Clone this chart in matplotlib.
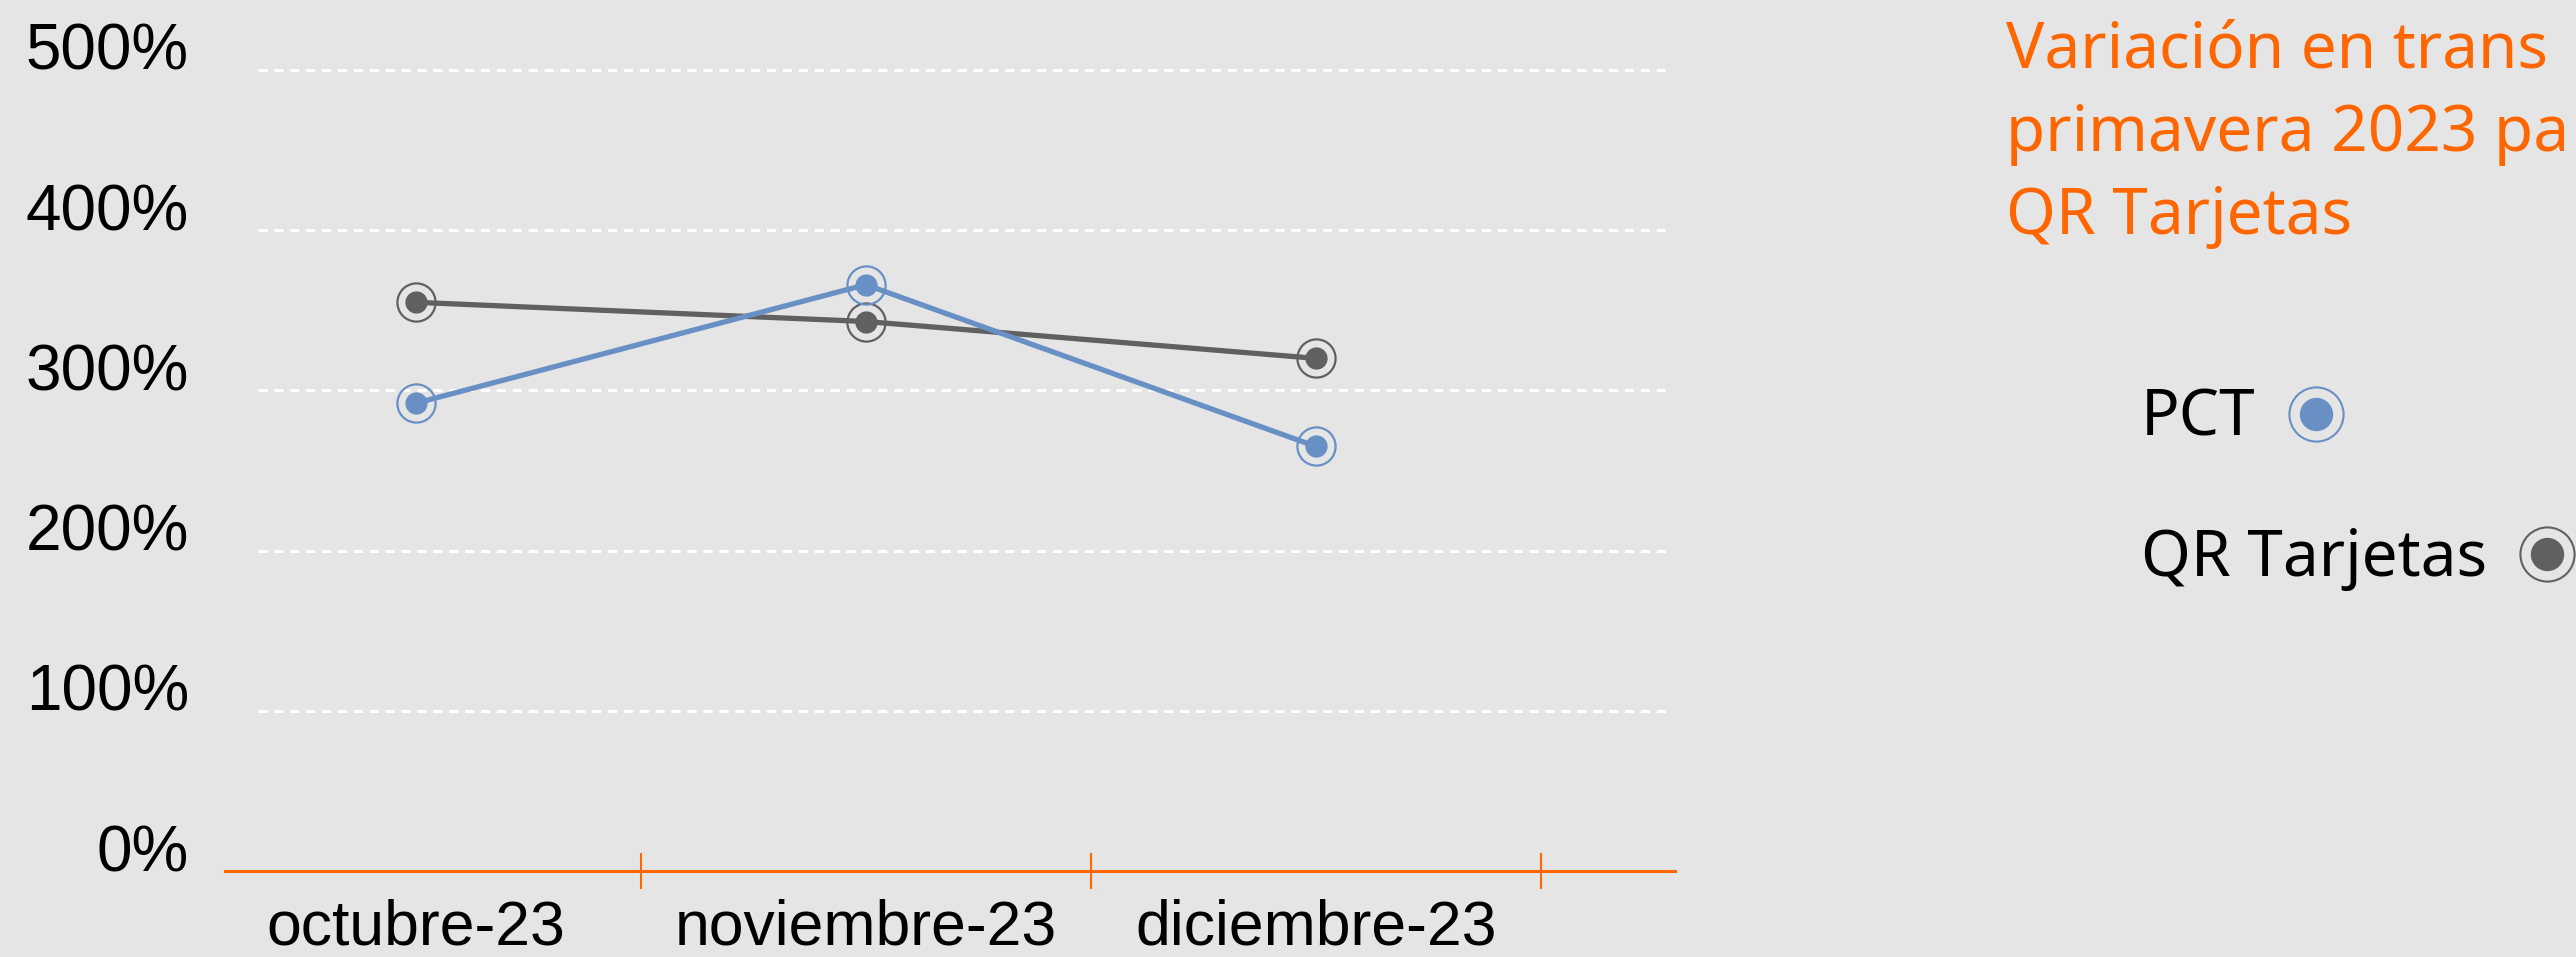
import matplotlib.pyplot as plt
from matplotlib.lines import Line2D
import numpy as np

meses = ["octubre-23", "noviembre-23", "diciembre-23"]
pct = [292, 366, 265]
qr_tarjetas = [355, 343, 320]
nombres = ["PCT", "QR Tarjetas"]
ticks_y = [0, 100, 200, 300, 400, 500]
# el titulo aparece recortado en el borde derecho
titulo = ["Variación en trans", "primavera 2023 pa", "QR Tarjetas"]

FONDO = "#e5e5e5"
NARANJA = "#ff6600"
AZUL = "#6890c4"
GRIS = "#606060"
W, H = 2576, 957


def dibujarSerie(ax, x, valores, color, z):
    ax.plot(x, valores, color=color, lw=3.8, marker='o', ms=15,
            mfc=color, mec=color, zorder=z, clip_on=False)
    ax.plot(x, valores, ls='none', marker='o', ms=27.5, mfc='none',
            mec=color, mew=1.6, zorder=z, clip_on=False)


def createPlot():
    plt.rcParams['font.family'] = ['Liberation Sans', 'DejaVu Sans']
    fig = plt.figure(figsize=(W / 100, H / 100), dpi=100, facecolor=FONDO)
    ax = fig.add_axes([225 / W, (H - 871) / H, 1450 / W, 801 / H])
    ax.set_facecolor(FONDO)

    x = np.arange(len(meses))
    dibujarSerie(ax, x, qr_tarjetas, GRIS, 3)
    dibujarSerie(ax, x, pct, AZUL, 4)

    # lineas de guia blancas punteadas
    for v in ticks_y[1:]:
        ax.axhline(v, xmin=0.023, xmax=0.997, color='white', lw=2.2,
                   ls=(0, (3.0, 2.2)), zorder=1, clip_on=False)

    ax.set_ylim(0, 500)
    ax.set_xlim(-0.424, 2.798)

    ax.set_yticks(ticks_y)
    ax.set_yticklabels([f"{v}%" for v in ticks_y])
    ax.tick_params(axis='y', length=0, pad=26, labelsize=46, labelcolor='black')
    for lab in ax.get_yticklabels():
        lab.set_verticalalignment('baseline')

    ax.set_xticks(x)
    ax.set_xticklabels(meses)
    ax.tick_params(axis='x', which='major', length=0, pad=20, labelsize=45)
    ax.set_xticks(x + 0.5, minor=True)
    ax.tick_params(axis='x', which='minor', direction='inout', length=26,
                   width=1.5, color=NARANJA)

    for s in ['left', 'top', 'right']:
        ax.spines[s].set_visible(False)
    ax.spines['bottom'].set_color(NARANJA)
    ax.spines['bottom'].set_linewidth(2.2)

    # titulo
    for i, linea in enumerate(titulo):
        fig.text(2006 / W, 1 - (68 + 83 * i) / H, linea, color=NARANJA,
                 fontsize=46, va='baseline', ha='left',
                 family=['Noto Sans', 'DejaVu Sans'])

    # leyenda manual: texto y luego marcador
    textos = []
    for nombre, base in zip(nombres, [436, 576]):
        textos.append(fig.text(2141 / W, 1 - base / H, nombre, fontsize=46,
                               va='baseline', ha='left', color='black',
                               family=['Noto Sans', 'DejaVu Sans']))
    fig.canvas.draw()
    rend = fig.canvas.get_renderer()
    for t, color, base in zip(textos, [AZUL, GRIS], [436, 576]):
        bb = t.get_window_extent(rend)
        cx = (bb.x1 + 60) / W
        cy = 1 - (base - 22) / H
        fig.add_artist(Line2D([cx], [cy], transform=fig.transFigure, marker='o',
                              ms=23, mfc=color, mec=color, ls='none'))
        fig.add_artist(Line2D([cx], [cy], transform=fig.transFigure, marker='o',
                              ms=39, mfc='none', mec=color, mew=1.5, ls='none'))

    fig.savefig("out.png", dpi=100, facecolor=FONDO)


def main():
    createPlot()


if __name__ == "__main__":
    main()
